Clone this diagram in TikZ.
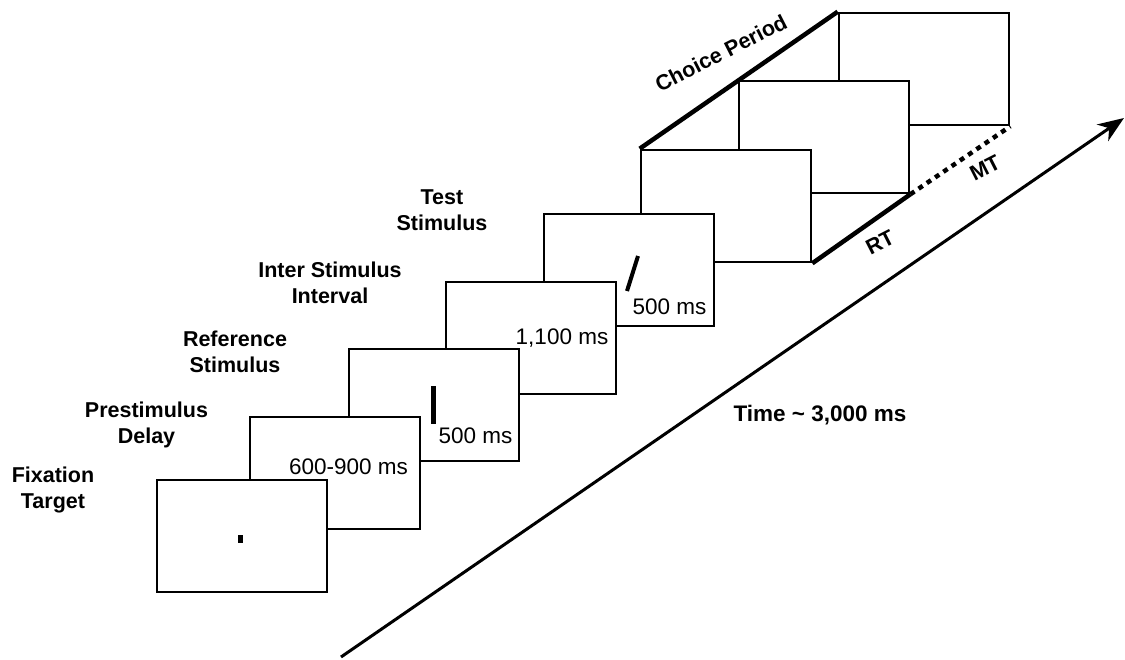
\documentclass[tikz,border=0pt]{standalone}
\usepackage{fontspec}
\setmainfont{Liberation Sans}
\usetikzlibrary{arrows.meta}
\begin{document}
\begin{tikzpicture}[x=1pt,y=-1pt,
  frame/.style={draw,fill=white,line width=2.6pt,minimum width=170pt,minimum height=112pt,inner sep=0pt},
  lbl/.style={font=\fontsize{21.5}{26}\selectfont\bfseries,align=center,inner sep=0pt},
  dur/.style={font=\fontsize{22.5}{27}\selectfont,inner sep=0pt},
  rlbl/.style={font=\fontsize{21.5}{26}\selectfont\bfseries,inner sep=0pt}]
\useasboundingbox (0,0) rectangle (1125,659);
% frames, back to front
\node[frame] (f8) at (924,69) {};
\node[frame] (f7) at (824,137) {};
\node[frame] (f6) at (726,206) {};
\node[frame] (f5) at (629,270) {};
\node[frame] (f4) at (531,338) {};
\node[frame] (f3) at (434,405) {};
\node[frame] (f2) at (335,473) {};
\node[frame] (f1) at (242,536) {};
% choice period edges
\draw[line width=4.5pt] (f6.north west) -- (f8.north west);
\draw[line width=4.5pt] (f6.south east) -- (f7.south east);
\draw[line width=4.5pt,dash pattern=on 5pt off 5pt] (f7.south east) -- (f8.south east);
% stimuli
\fill (238,535) rectangle (243,543);
\draw[line width=4.5pt] (433.5,386) -- (433.5,424);
\draw[line width=4pt] (638,256) -- (627,291);
% durations
\node[dur] (d2) at (348.5,467) {600-900 ms};
\node[dur] (d3) at (475.5,436) {500 ms};
\node[dur] (d4) at (562,338) {1,100 ms};
\node[dur] (d5) at (669.5,307) {500 ms};
% labels
\node[lbl] (l1) at (53,490) {Fixation\\Target};
\node[lbl] (l2) at (146.5,425) {Prestimulus\\Delay};
\node[lbl] (l3) at (235,352) {Reference\\Stimulus};
\node[lbl] (l4) at (330,283) {Inter Stimulus\\Interval};
\node[lbl] (l5) at (442,210) {Test\\Stimulus};
\node[rlbl,rotate=27] (cp) at (721,53) {Choice Period};
\node[rlbl,rotate=27] (rt) at (880,242) {RT};
\node[rlbl,rotate=27] (mt) at (985,168) {MT};
% time arrow
\coordinate (as) at (341,657);
\coordinate (ae) at (1124,118);
\draw[line width=3pt,-{Stealth[length=26pt,width=20pt,inset=8pt]}] (as) -- (ae);
\node[font=\fontsize{22.5}{27}\selectfont\bfseries,inner sep=0pt] (tm) at (820,415) {Time \textasciitilde{} 3,000 ms};
\end{tikzpicture}
\end{document}
